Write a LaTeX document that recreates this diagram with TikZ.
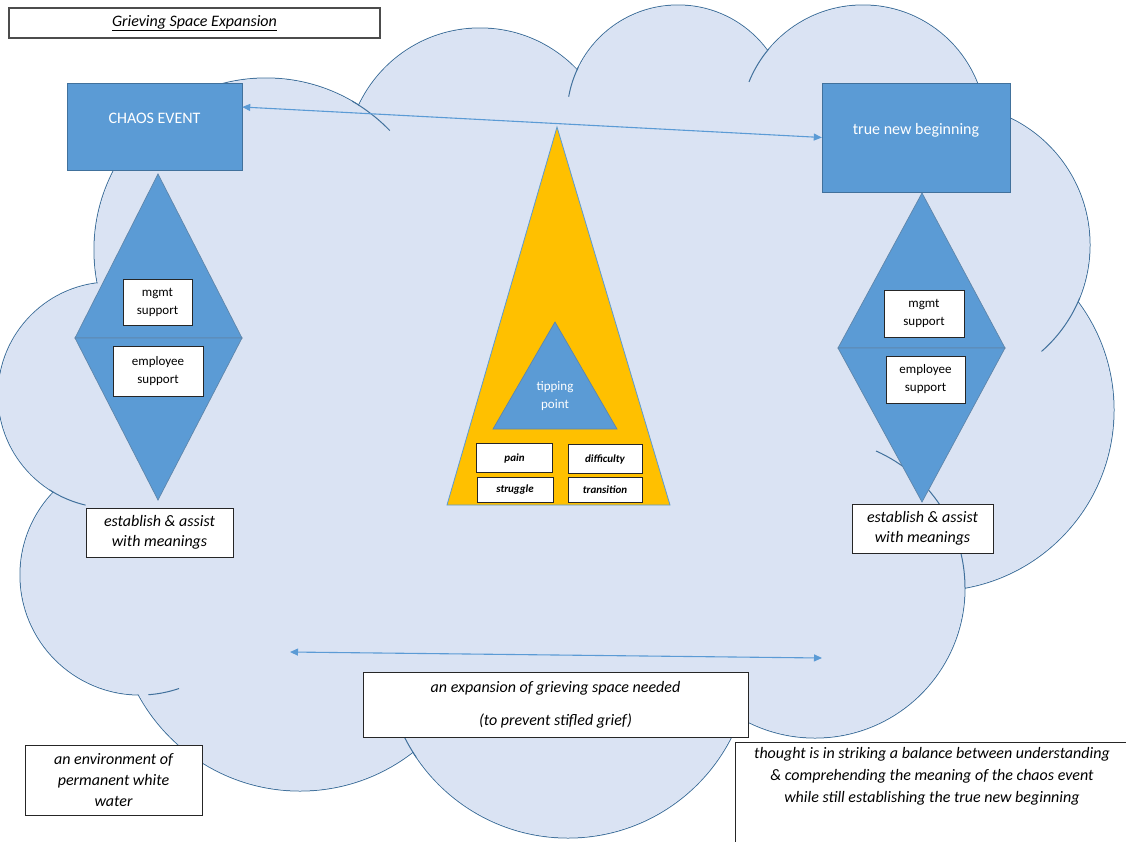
\documentclass[tikz,border=0pt]{standalone}
\usepackage{fontspec}
\setmainfont{Carlito}
\usetikzlibrary{arrows.meta}

\definecolor{cloudfill}{HTML}{DAE3F3}
\definecolor{cloudline}{HTML}{41719C}
\definecolor{accent}{HTML}{5B9BD5}
\definecolor{gold}{HTML}{FFC000}

\begin{document}
\begin{tikzpicture}[x=1pt, y=-1pt, >={Triangle[length=8pt, width=7pt]},
    lobe/.style={draw=cloudline, line width=1pt},
    bluebox/.style={rectangle, draw=cloudline, fill=accent, text=white, inner sep=0pt,
      text height=10pt, text depth=17pt, font=\fontsize{16}{19.5}\selectfont},
    wedge/.style={fill=accent, draw=cloudline!85, line width=0.7pt},
    textbox/.style={rectangle, draw=black!85, fill=white, line width=0.9pt, align=center,
      inner sep=0pt, font=\fontsize{16}{20}\selectfont\itshape},
    supportbox/.style={rectangle, draw=black!85, fill=white, line width=0.9pt, align=center,
      inner sep=0pt, font=\fontsize{13}{18}\selectfont},
    feelbox/.style={rectangle, draw=black!85, fill=white, line width=0.9pt, inner sep=0pt,
      font=\fontsize{11}{13}\selectfont\bfseries\itshape},
    link/.style={<->, draw=accent, line width=1.1pt}]

  \useasboundingbox (0,0) rectangle (1126,841);

  % Cloud: outlines, then fill the inside
  \foreach \cx/\cy/\r in {266/250/172, 480/162/134, 678/116/111, 863/128/123, 949/245/141,
      933/410/181, 815/588/150, 568/655/183, 300/607/184, 140/575/120, 111/395/113}
    \draw[lobe] (\cx,\cy) circle[radius=\r];
  \fill[cloudfill] (266,250) -- (480,162) -- (678,116) -- (863,128) -- (949,245) -- (933,410)
    -- (815,588) -- (568,655) -- (300,607) -- (140,575) -- (111,395) -- cycle;
  \foreach \cx/\cy/\r in {266/250/172, 480/162/134, 678/116/111, 863/128/123, 949/245/141,
      933/410/181, 815/588/150, 568/655/183, 300/607/184, 140/575/120, 111/395/113}
    \fill[cloudfill] (\cx,\cy) circle[radius=\r-0.5];

  % Cloud: short inner arcs
  \foreach \cx/\cy/\r/\a/\b in {266/250/172/-60/-44, 678/116/111/190/206, 863/128/123/202/220,
      949/245/141/22/49, 815/588/150/-66/0, 111/395/113/103/123, 140/575/120/71/86,
      568/655/183/146/155}
    \draw[lobe] (\cx,\cy) ++(\a:\r) arc[start angle=\a, end angle=\b, radius=\r];

  % Title
  \node[rectangle, draw=black!70, line width=1.3pt, fill=white, minimum width=371pt,
    minimum height=30pt, font=\fontsize{16}{19.5}\selectfont] (title) at (194.5,23)
    {\underline{\textit{Grieving Space Expansion}}};

  % Events
  \node[bluebox, minimum width=175pt, minimum height=87pt] (chaos) at (154.5,126.5) {CHAOS EVENT};
  \node[bluebox, minimum width=188pt, minimum height=109pt] (newbeg) at (916,137.5) {true new beginning};

  % Left diamond
  \coordinate (ltop) at (158,174);
  \coordinate (lleft) at (75,338);
  \coordinate (lright) at (242,338);
  \coordinate (lbot) at (158,500);
  \filldraw[wedge] (ltop) -- (lleft) -- (lright) -- cycle;
  \filldraw[wedge] (lleft) -- (lbot) -- (lright) -- cycle;

  % Right diamond
  \coordinate (rtop) at (922,193);
  \coordinate (rleft) at (838,348);
  \coordinate (rright) at (1005,348);
  \coordinate (rbot) at (922,502);
  \filldraw[wedge] (rtop) -- (rleft) -- (rright) -- cycle;
  \filldraw[wedge] (rleft) -- (rbot) -- (rright) -- cycle;

  % Support boxes
  \node[supportbox, minimum width=69pt, minimum height=46pt] (lmgmt) at (157.5,302) {mgmt\\support};
  \node[supportbox, minimum width=90pt, minimum height=50pt] (lemp) at (158,371) {employee\\support};
  \node[supportbox, minimum width=80pt, minimum height=47pt] (rmgmt) at (924,313.5) {mgmt\\support};
  \node[supportbox, minimum width=79pt, minimum height=47pt] (remp) at (925.5,379.5) {employee\\support};

  % Meanings
  \node[textbox, minimum width=147pt, minimum height=49pt] (lmean) at (159.5,532.5) {establish \& assist\\with meanings};
  \node[textbox, minimum width=141pt, minimum height=49pt] (rmean) at (922.5,528.5) {establish \& assist\\with meanings};

  % Grief triangle
  \filldraw[fill=gold, draw=accent, line width=0.8pt] (557,127) -- (447,505) -- (670,505) -- cycle;
  \filldraw[wedge] (555,322) -- (493,429) -- (617,429) -- cycle;
  \node[text=white, align=center, font=\fontsize{13}{18}\selectfont] (tipping) at (555,396) {tipping\\point};

  \node[feelbox, minimum width=76pt, minimum height=29pt] (pain) at (514.5,458) {pain};
  \node[feelbox, minimum width=74pt, minimum height=29pt] (difficulty) at (605,459) {difficulty};
  \node[feelbox, minimum width=76pt, minimum height=25pt] (struggle) at (515,489.5) {struggle};
  \node[feelbox, minimum width=74pt, minimum height=25pt] (transition) at (605,489.5) {transition};

  % Connections
  \draw[link] ([yshift=19.5pt]chaos.east) -- (newbeg.west);
  \coordinate (gleft) at (290,652);
  \coordinate (gright) at (822,658);
  \draw[link] (gleft) -- (gright);

  % Notes
  \node[textbox, minimum width=385pt, minimum height=65pt, font=\fontsize{16}{16.5}\selectfont\itshape]
    (expansion) at (555.5,704.5) {an expansion of grieving space needed\\[16.5pt](to prevent stifled grief)};
  \node[textbox, minimum width=177pt, minimum height=70pt, font=\fontsize{16}{21}\selectfont\itshape]
    (environ) at (113.5,780) {an environment of\\permanent white\\water};
  \node[textbox, anchor=north west, minimum width=393pt, inner ysep=5pt, text depth=80pt,
    font=\fontsize{16}{22}\selectfont\itshape] (thought) at (735,742)
    {thought is in striking a balance between understanding\\\& comprehending the meaning of the chaos event\\while still establishing the true new beginning};

\end{tikzpicture}
\end{document}
